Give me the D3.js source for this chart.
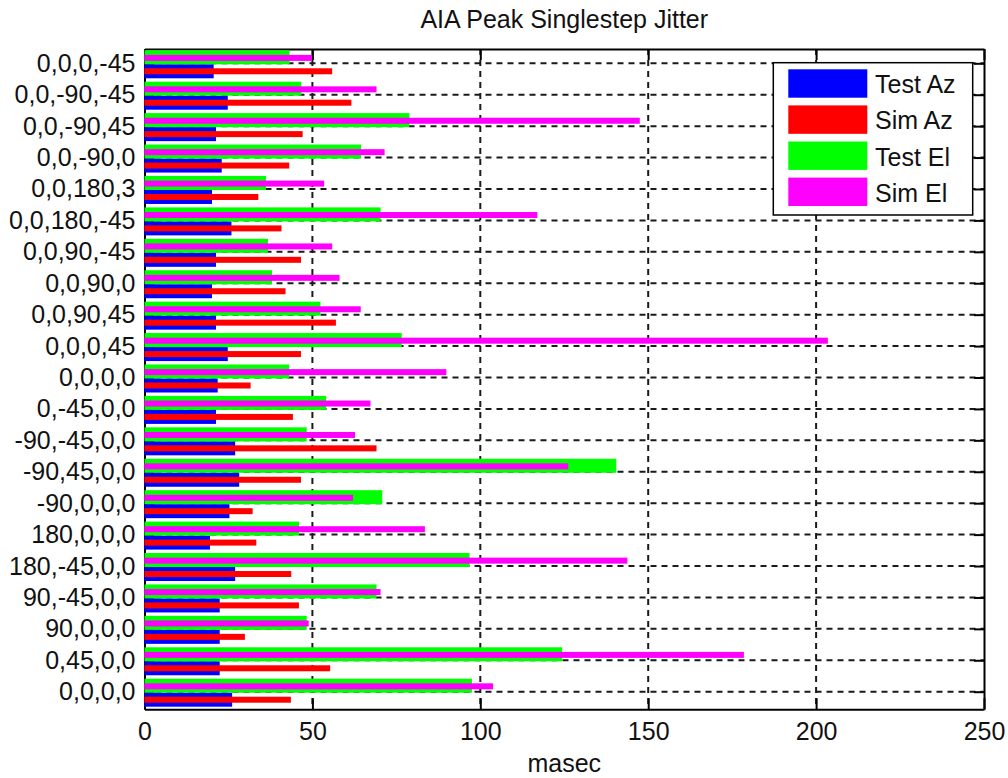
<!DOCTYPE html>
<html lang="en">
<head>
<meta charset="UTF-8"/>
<title>AIA Peak Singlestep Jitter</title>
<script src="https://d3js.org/d3.v7.min.js"></script>
<style>
	body { margin: 0; background: white; }
	text { font-family: "Liberation Sans", Arial, sans-serif; }
</style>
</head>
<body>
<script>

	// categories, listed top to bottom as they appear
	var categories = ["0,0,0,-45", "0,0,-90,-45", "0,0,-90,45", "0,0,-90,0", "0,0,180,3",
		"0,0,180,-45", "0,0,90,-45", "0,0,90,0", "0,0,90,45", "0,0,0,45", "0,0,0,0",
		"0,-45,0,0", "-90,-45,0,0", "-90,45,0,0", "-90,0,0,0", "180,0,0,0",
		"180,-45,0,0", "90,-45,0,0", "90,0,0,0", "0,45,0,0", "0,0,0,0"];

	var testAz = [20.6, 24.8, 21.3, 23.0, 20.1, 25.9, 21.3, 20.1, 21.3, 24.8, 21.8,
		21.3, 27.0, 28.2, 25.3, 19.5, 27.0, 22.4, 22.4, 22.4, 26.1];
	var simAz = [55.9, 61.6, 47.1, 43.1, 33.9, 40.8, 46.6, 42.0, 57.0, 46.6, 31.6,
		44.2, 69.1, 46.6, 32.2, 33.3, 43.7, 46.0, 29.9, 55.3, 43.6];
	var testEl = [43.2, 46.7, 78.9, 64.5, 36.2, 70.3, 36.8, 38.0, 52.4, 76.6, 43.1,
		54.1, 48.3, 140.5, 70.8, 46.0, 96.8, 69.1, 48.3, 124.4, 97.5];
	var simEl = [49.9, 69.1, 147.5, 71.5, 53.5, 117.0, 55.9, 58.1, 64.4, 203.5, 89.9,
		67.3, 62.7, 126.2, 62.1, 83.5, 143.8, 70.3, 48.9, 178.5, 103.8];

	var xTicks = [0, 50, 100, 150, 200, 250];
	var seriesNames = ["Test Az", "Sim Az", "Test El", "Sim El"];

	var w = 1008;
	var h = 778;
	// plot box edges (window.top is reserved, hence the prefixes)
	var pLeft = 144.5, pRight = 984, pTop = 49, pBottom = 709.3;
	var fontSize = 25;
	var colors = ["#0000ff", "#ff0000", "#00ff00", "#ff00ff"];

	var xScale = d3.scaleLinear()
		.domain([0, 250])
		.range([pLeft, pRight]);

	// category index -> y (index 0 at the top)
	var yScale = d3.scaleLinear()
		.domain([-0.455, 20.56])
		.range([pTop, pBottom]);

	var svg = d3.select("body")
		.append("svg")
		.attr("width", w)
		.attr("height", h);

	// grid lines (under everything else)
	svg.append("g")
		.selectAll("line")
		.data(xTicks.filter(function(d){ return d > 0 && d < 250; }))
		.enter()
		.append("line")
		.attr("x1", function(d){ return xScale(d); })
		.attr("x2", function(d){ return xScale(d); })
		.attr("y1", pTop)
		.attr("y2", pBottom)
		.attr("stroke", "#1a1a1a")
		.attr("stroke-width", 2)
		.attr("stroke-dasharray", "6,5");

	svg.append("g")
		.selectAll("line")
		.data(categories)
		.enter()
		.append("line")
		.attr("x1", pLeft)
		.attr("x2", pRight)
		.attr("y1", function(d, i){ return yScale(i); })
		.attr("y2", function(d, i){ return yScale(i); })
		.attr("stroke", "#1a1a1a")
		.attr("stroke-width", 2)
		.attr("stroke-dasharray", "6,5");

	// axes, ticks pointing inward
	var xAxis = d3.axisBottom(xScale)
		.tickValues(xTicks)
		.tickSizeInner(-11)
		.tickSizeOuter(0)
		.tickPadding(13);
	var xAxisTop = d3.axisTop(xScale)
		.tickValues(xTicks)
		.tickSizeInner(-11)
		.tickSizeOuter(0)
		.tickFormat("");
	var yAxis = d3.axisLeft(yScale)
		.tickValues(d3.range(categories.length))
		.tickFormat(function(i){ return categories[i]; })
		.tickSizeInner(-10)
		.tickSizeOuter(0)
		.tickPadding(9);
	var yAxisRight = d3.axisRight(yScale)
		.tickValues(d3.range(categories.length))
		.tickSizeInner(-10)
		.tickSizeOuter(0)
		.tickFormat("");

	var axes = [
		svg.append("g").attr("transform", "translate(0," + pBottom + ")").call(xAxis),
		svg.append("g").attr("transform", "translate(0," + pTop + ")").call(xAxisTop),
		svg.append("g").attr("transform", "translate(" + pLeft + ",0)").call(yAxis),
		svg.append("g").attr("transform", "translate(" + pRight + ",0)").call(yAxisRight)
	];
	axes.forEach(function(g){
		g.attr("font-size", fontSize).attr("font-family", null);
		g.select(".domain").attr("stroke", "#000").attr("stroke-width", 2);
		g.selectAll(".tick line").attr("stroke", "#000").attr("stroke-width", 2);
		g.selectAll(".tick text").attr("fill", "#111");
	});

	// bars: wide "Test" bar with a thin "Sim" bar laid over its middle
	// El pair sits just above each category tick, Az pair just below
	var barDefs = [
		{ values: testAz, y0: 0.032, y1: 0.477, color: colors[0] },
		{ values: simAz, y0: 0.159, y1: 0.350, color: colors[1] },
		{ values: testEl, y0: -0.414, y1: 0.032, color: colors[2] },
		{ values: simEl, y0: -0.267, y1: -0.076, color: colors[3] }
	];

	barDefs.forEach(function(b){
		svg.append("g")
			.selectAll("rect")
			.data(b.values)
			.enter()
			.append("rect")
			.attr("x", xScale(0))
			.attr("y", function(d, i){ return yScale(i + b.y0); })
			.attr("width", function(d){ return xScale(d) - xScale(0); })
			.attr("height", function(d, i){ return yScale(i + b.y1) - yScale(i + b.y0); })
			.attr("fill", b.color);
	});

	// title and x label
	svg.append("text")
		.attr("x", (pLeft + pRight) / 2)
		.attr("y", 28)
		.attr("text-anchor", "middle")
		.attr("font-size", fontSize)
		.attr("fill", "#111")
		.text("AIA Peak Singlestep Jitter");

	svg.append("text")
		.attr("x", (pLeft + pRight) / 2)
		.attr("y", 772)
		.attr("text-anchor", "middle")
		.attr("font-size", fontSize)
		.attr("fill", "#111")
		.text("masec");

	// legend
	var legend = svg.append("g").attr("transform", "translate(773.3,62.7)");
	legend.append("rect")
		.attr("width", 199.4)
		.attr("height", 152.3)
		.attr("fill", "white")
		.attr("stroke", "#000")
		.attr("stroke-width", 1.5);

	var items = legend.selectAll(".item")
		.data(seriesNames)
		.enter()
		.append("g")
		.attr("transform", function(d, i){ return "translate(15," + (6.6 + i * 36.1) + ")"; });

	items.append("rect")
		.attr("width", 79)
		.attr("height", 28.4)
		.attr("fill", function(d, i){ return colors[i]; });

	items.append("text")
		.attr("x", 86.7)
		.attr("y", 24)
		.attr("font-size", fontSize)
		.attr("fill", "#111")
		.text(function(d){ return d; });

</script>
</body>
</html>
